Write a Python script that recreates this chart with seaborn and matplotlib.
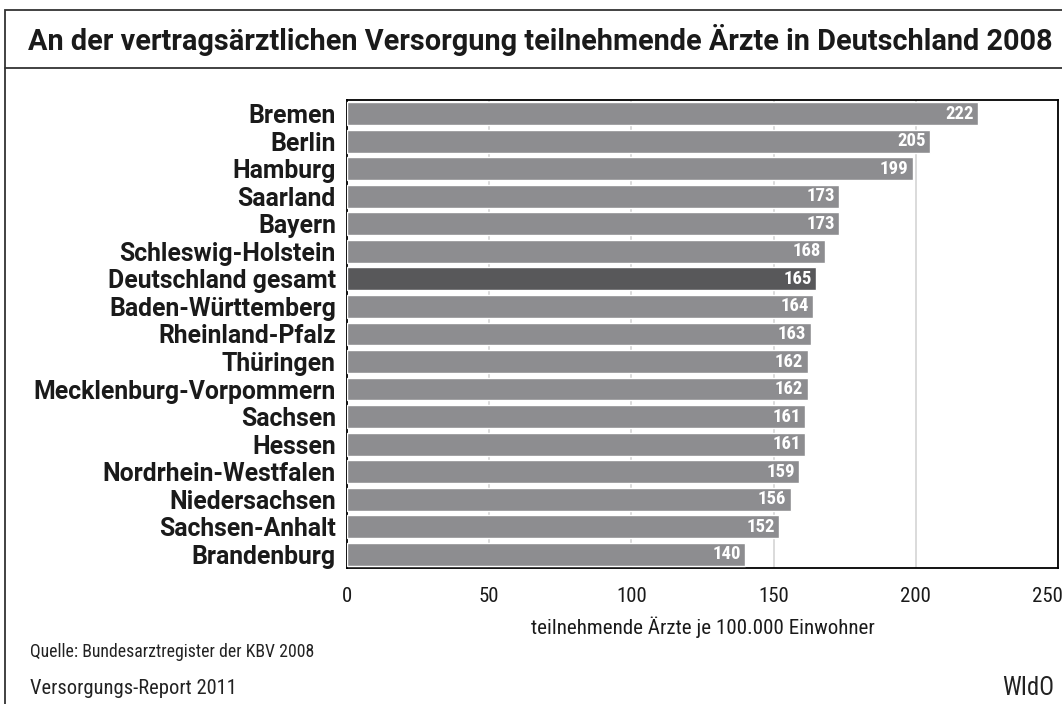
import matplotlib
matplotlib.use("Agg")
import pandas as pd
import seaborn as sns
import matplotlib.pyplot as plt
import matplotlib.transforms as mtransforms
from matplotlib.patches import Rectangle
from matplotlib.lines import Line2D

regions = ["Bremen", "Berlin", "Hamburg", "Saarland", "Bayern", "Schleswig-Holstein",
           "Deutschland gesamt", "Baden-Württemberg", "Rheinland-Pfalz", "Thüringen",
           "Mecklenburg-Vorpommern", "Sachsen", "Hessen", "Nordrhein-Westfalen",
           "Niedersachsen", "Sachsen-Anhalt", "Brandenburg"]
values = [222, 205, 199, 173, 173, 168, 165, 164, 163, 162, 162, 161, 161, 159, 156, 152, 140]
xticks = [0, 50, 100, 150, 200, 250]

df = pd.DataFrame({"region": regions, "value": values})
df["group"] = ["gesamt" if r == "Deutschland gesamt" else "land" for r in regions]

sns.set_style("white")
COND = ["Roboto Condensed", "DejaVu Sans"]
WIDE = ["Roboto", "DejaVu Sans"]
plt.rcParams["font.family"] = COND

fig = plt.figure(figsize=(10.62, 7.04), dpi=100)
renderer = fig.canvas.get_renderer()


def fit_size(s, target_px, size, **kw):
    # font size that makes string s about target_px wide
    t = fig.text(0, 0, s, fontsize=size, **kw)
    w = t.get_window_extent(renderer).width
    t.remove()
    return size * target_px / w


ax = fig.add_axes([0.3267, 0.1932, 0.6695, 0.6648])

sns.barplot(data=df, x="value", y="region", hue="group", dodge=False, orient="h",
            palette={"land": "#8c8d91", "gesamt": "#58585a"}, width=0.83,
            legend=False, ax=ax, zorder=3)

ax.set_xlim(0, 250)
ax.set_xticks(xticks)
ax.set_xticklabels([str(t) for t in xticks], fontsize=15, color="#1a1a1a")
ax.tick_params(axis="x", length=0, pad=14)
ax.tick_params(axis="y", length=0, pad=8)
# the last tick label sits a little left of its gridline, as in the original
last = ax.get_xticklabels()[-1]
last.set_transform(last.get_transform() +
                   mtransforms.ScaledTranslation(-11 / 100, 0, fig.dpi_scale_trans))
ylab_size = fit_size("Deutschland gesamt", 229, 16, family=WIDE, fontweight="bold")
for lab in ax.get_yticklabels():
    lab.set_family(WIDE)
    lab.set_fontsize(ylab_size)
    lab.set_fontweight("bold")
    lab.set_color("#1a1a1a")
ax.xaxis.grid(True, color="#d4d4d4", linewidth=1.2, zorder=0)
ax.set_axisbelow(True)
ax.set_ylabel("")
xl = "teilnehmende Ärzte je 100.000 Einwohner"
ax.set_xlabel(xl, fontsize=fit_size(xl, 346, 14), labelpad=7, color="#1a1a1a")
for s in ax.spines.values():
    s.set_visible(True)
    s.set_color("black")
    s.set_linewidth(1.3)

for i, v in enumerate(values):
    ax.text(v - 1.5, i, str(v), ha="right", va="center", color="white",
            fontsize=13.5, fontweight="bold", zorder=4)

# frame and title box
fig.add_artist(Rectangle((5 / 1062, -0.01), 1.1, 1 - 10 / 704 + 0.01,
                         transform=fig.transFigure, fill=False, edgecolor="#333333", linewidth=1.3))
fig.add_artist(Line2D([5 / 1062, 1], [1 - 68 / 704] * 2, transform=fig.transFigure,
                      color="#333333", linewidth=1.3))
title = "An der vertragsärztlichen Versorgung teilnehmende Ärzte in Deutschland 2008"
fig.text(540 / 1062, 1 - 40 / 704, title, ha="center", va="center",
         fontsize=fit_size(title, 1024, 18, family=WIDE, fontweight="bold"),
         family=WIDE, fontweight="bold", color="#1a1a1a")

src = "Quelle: Bundesarztregister der KBV 2008"
fig.text(30 / 1062, 1 - 652 / 704, src, ha="left", va="center",
         fontsize=fit_size(src, 283, 13), color="#222222")
rep = "Versorgungs-Report 2011"
fig.text(30 / 1062, 1 - 688 / 704, rep, ha="left", va="center",
         fontsize=fit_size(rep, 207, 14), color="#222222")
fig.text(1054 / 1062, 1 - 688 / 704, "WIdO", ha="right", va="center",
         fontsize=fit_size("WIdO", 52, 14), color="#222222")

fig.savefig("out.png", dpi=100)
